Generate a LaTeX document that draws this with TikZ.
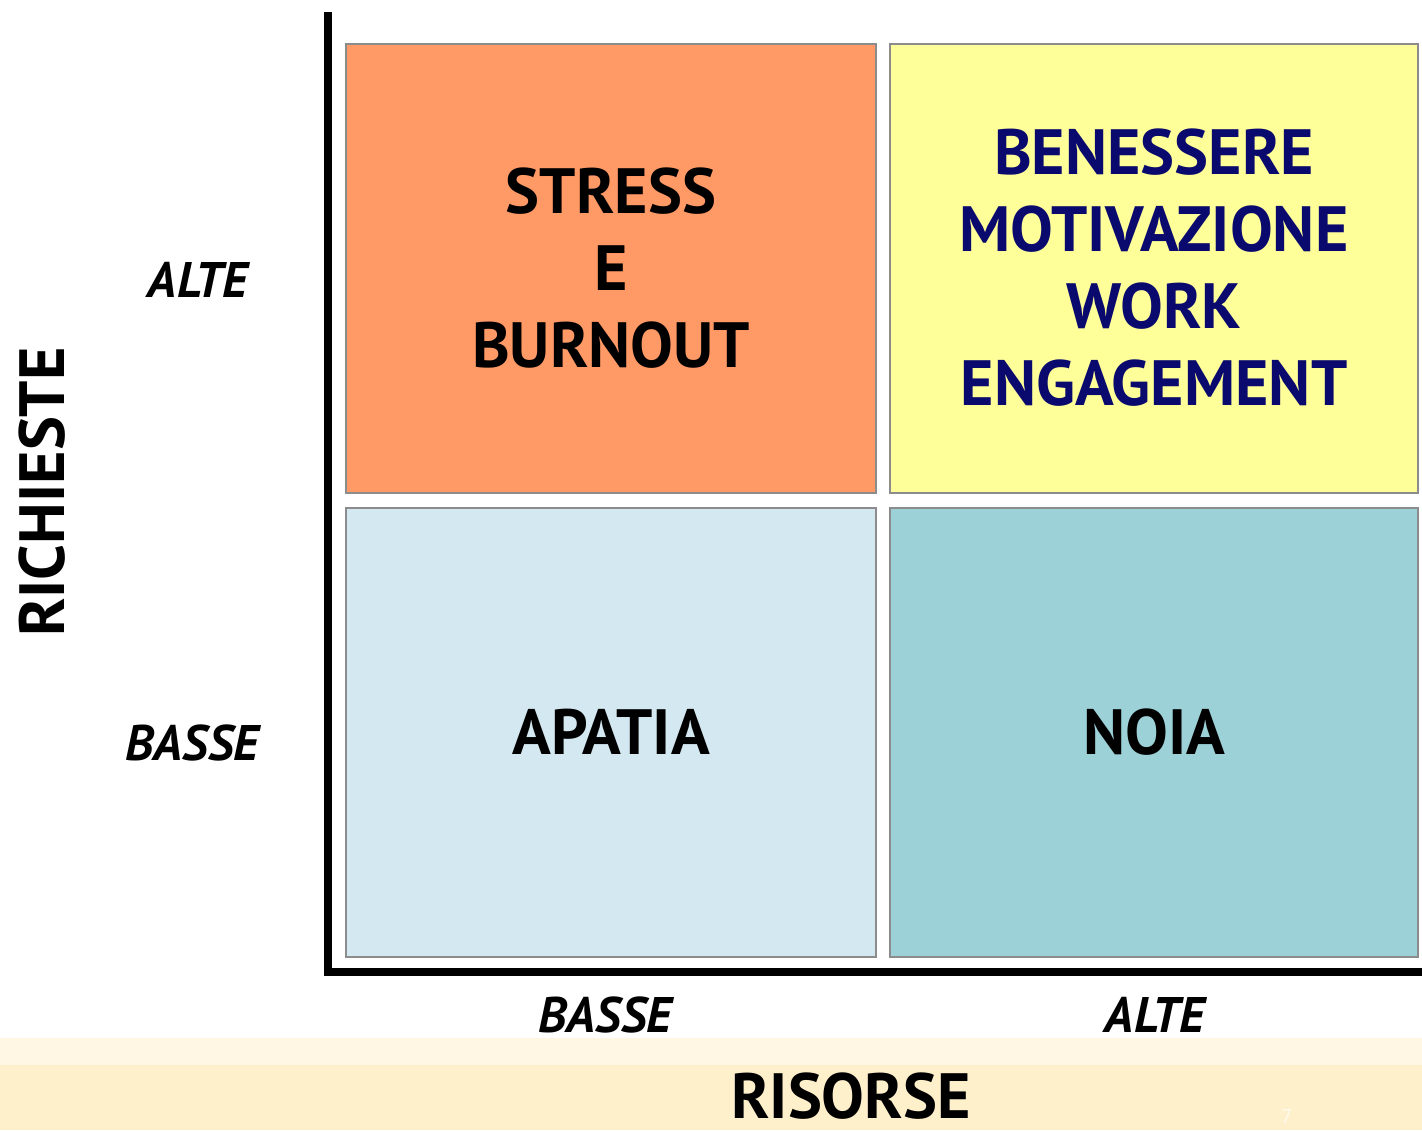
\documentclass[tikz,border=0pt]{standalone}
\usepackage{fontspec}
\setmainfont{PT Sans}
\usetikzlibrary{positioning}
\definecolor{stresscol}{HTML}{FF9966}
\definecolor{benecol}{HTML}{FFFF99}
\definecolor{apatiacol}{HTML}{D3E8F0}
\definecolor{noiacol}{HTML}{9DD1D8}
\definecolor{navytext}{HTML}{0A0A6E}
\definecolor{bandlight}{HTML}{FFF6E3}
\definecolor{banddark}{HTML}{FFF0CC}
\begin{document}
\begin{tikzpicture}[
    x=0.5pt,y=-0.5pt,
    quadrant/.style={rectangle,draw=gray!90,line width=1pt,
        minimum width=265pt,minimum height=224.5pt,inner sep=0pt,
        align=center,font=\fontsize{32}{38.5}\selectfont\bfseries},
    level/.style={font=\fontsize{25}{30}\selectfont\bfseries\itshape},
    axistitle/.style={inner sep=0pt,font=\fontsize{32}{38}\selectfont\bfseries}
  ]
    \useasboundingbox (0,0) rectangle (1422,1130);

    % bottom band
    \fill[bandlight] (0,1038) rectangle (1422,1065);
    \fill[banddark]  (0,1065) rectangle (1422,1130);

    % quadrants
    \node[quadrant,fill=stresscol]  (stress)  at (611,268) {STRESS\\E\\BURNOUT};
    \node[quadrant,fill=benecol,minimum width=264pt,text=navytext]
        (benessere) at (1154,268) {BENESSERE\\MOTIVAZIONE\\WORK\\ENGAGEMENT};
    \node[quadrant,fill=apatiacol] (apatia) at (611,732) {APATIA};
    \node[quadrant,fill=noiacol,minimum width=264pt] (noia) at (1154,732) {NOIA};

    % axes
    \coordinate (ytop)   at (328,12);
    \coordinate (xright) at (1422,971.5);
    \draw[line width=4pt] (ytop) |- (xright);

    % level labels
    \node[level] (ralte)  at (198,280) {ALTE};
    \node[level] (rbasse) at (192,743) {BASSE};
    \node[level] (sbasse) at (605,1015) {BASSE};
    \node[level] (salte)  at (1155,1015) {ALTE};

    % axis titles
    \node[axistitle,rotate=90] (richieste) at (42,492) {RICHIESTE};
    \node[axistitle] (risorse) at (851,1096) {RISORSE};
    \node[inner sep=0pt,text=white!70!banddark,font=\fontsize{10}{12}\selectfont] (pagenum) at (1287,1116) {7};
\end{tikzpicture}
\end{document}
